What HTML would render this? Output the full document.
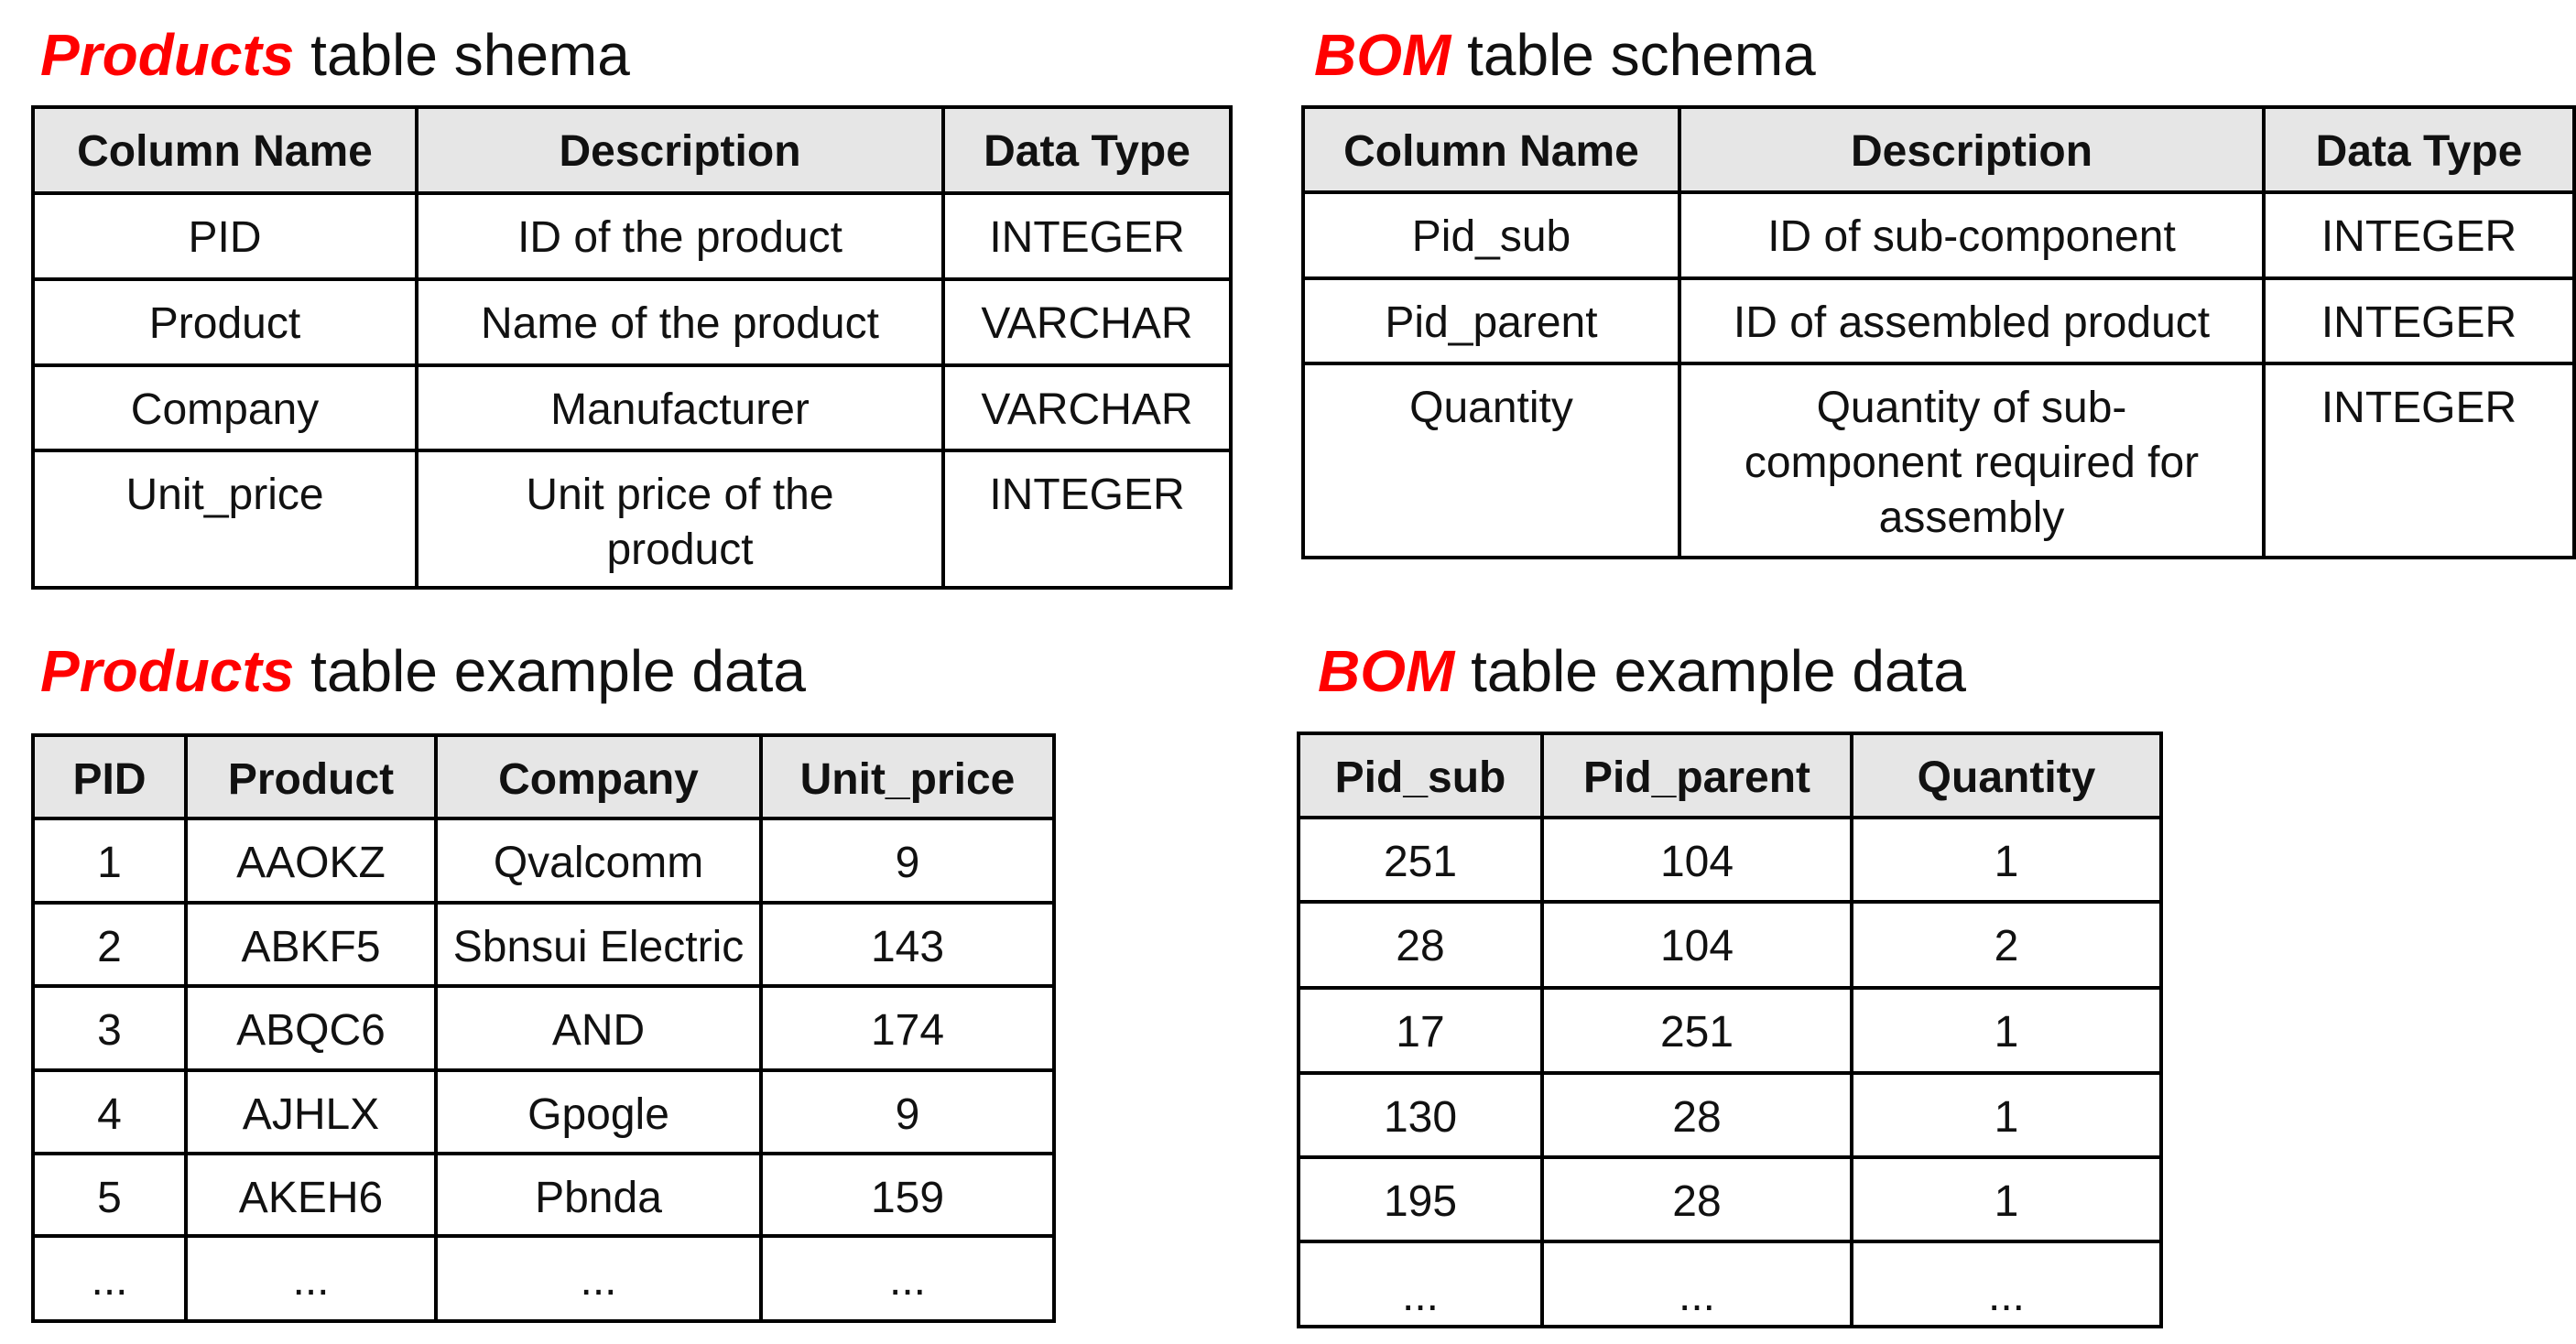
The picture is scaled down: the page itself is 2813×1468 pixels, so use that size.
<!DOCTYPE html>
<html><head><meta charset="utf-8"><style>
body{margin:0;width:2813px;height:1468px;background:#fff;position:relative;overflow:hidden;font-family:"Liberation Sans","Noto Sans CJK KR",sans-serif;color:#111}
.t{position:absolute;font-size:64px;white-space:nowrap;line-height:1}
.t b{color:#f00;font-style:italic;font-weight:bold}
table{position:absolute;border-collapse:collapse;table-layout:fixed}
td,th{border:4px solid #000;text-align:center;vertical-align:top;font-size:48px;line-height:60px;padding:17px 4px 0;overflow:hidden}
th{background:#e6e6e6;font-weight:bold}
</style></head><body>
<div class="t" style="left:44px;top:28px"><b>Products</b> table shema</div>
<table style="left:34px;top:115px;width:1308px">
<col style="width:419px"><col style="width:575px"><col style="width:314px">
<tr style="height:94px"><th>Column Name</th><th>Description</th><th>Data Type</th></tr>
<tr style="height:94px"><td>PID</td><td>ID of the product</td><td>INTEGER</td></tr>
<tr style="height:94px"><td>Product</td><td>Name of the product</td><td>VARCHAR</td></tr>
<tr style="height:93px"><td>Company</td><td>Manufacturer</td><td>VARCHAR</td></tr>
<tr style="height:150px"><td>Unit_price</td><td>Unit price of the<br>product</td><td>INTEGER</td></tr>
</table>

<div class="t" style="left:1435px;top:28px"><b>BOM</b> table schema</div>
<table style="left:1421px;top:115px;width:1388px">
<col style="width:411px"><col style="width:638px"><col style="width:339px">
<tr style="height:93px"><th>Column Name</th><th>Description</th><th>Data Type</th></tr>
<tr style="height:94px"><td>Pid_sub</td><td>ID of sub-component</td><td>INTEGER</td></tr>
<tr style="height:93px"><td>Pid_parent</td><td>ID of assembled product</td><td>INTEGER</td></tr>
<tr style="height:212px"><td>Quantity</td><td>Quantity of sub-<br>component required for<br>assembly</td><td>INTEGER</td></tr>
</table>

<div class="t" style="left:44px;top:701px"><b>Products</b> table example data</div>
<table style="left:34px;top:801px;width:1115px">
<col style="width:167px"><col style="width:273px"><col style="width:355px"><col style="width:320px">
<tr style="height:91px"><th>PID</th><th>Product</th><th>Company</th><th>Unit_price</th></tr>
<tr style="height:92px"><td>1</td><td>AAOKZ</td><td>Qvalcomm</td><td>9</td></tr>
<tr style="height:91px"><td>2</td><td>ABKF5</td><td>Sbnsui Electric</td><td>143</td></tr>
<tr style="height:92px"><td>3</td><td>ABQC6</td><td>AND</td><td>174</td></tr>
<tr style="height:91px"><td>4</td><td>AJHLX</td><td>Gpogle</td><td>9</td></tr>
<tr style="height:90px"><td>5</td><td>AKEH6</td><td>Pbnda</td><td>159</td></tr>
<tr style="height:93px"><td>...</td><td>...</td><td>...</td><td>...</td></tr>
</table>

<div class="t" style="left:1439px;top:701px"><b>BOM</b> table example data</div>
<table style="left:1416px;top:799px;width:942px">
<col style="width:266px"><col style="width:338px"><col style="width:338px">
<tr style="height:92px"><th>Pid_sub</th><th>Pid_parent</th><th>Quantity</th></tr>
<tr style="height:92px"><td>251</td><td>104</td><td>1</td></tr>
<tr style="height:94px"><td>28</td><td>104</td><td>2</td></tr>
<tr style="height:93px"><td>17</td><td>251</td><td>1</td></tr>
<tr style="height:92px"><td>130</td><td>28</td><td>1</td></tr>
<tr style="height:92px"><td>195</td><td>28</td><td>1</td></tr>
<tr style="height:93px"><td style="padding-top:28px">...</td><td style="padding-top:28px">...</td><td style="padding-top:28px">...</td></tr>
</table>
</body></html>
